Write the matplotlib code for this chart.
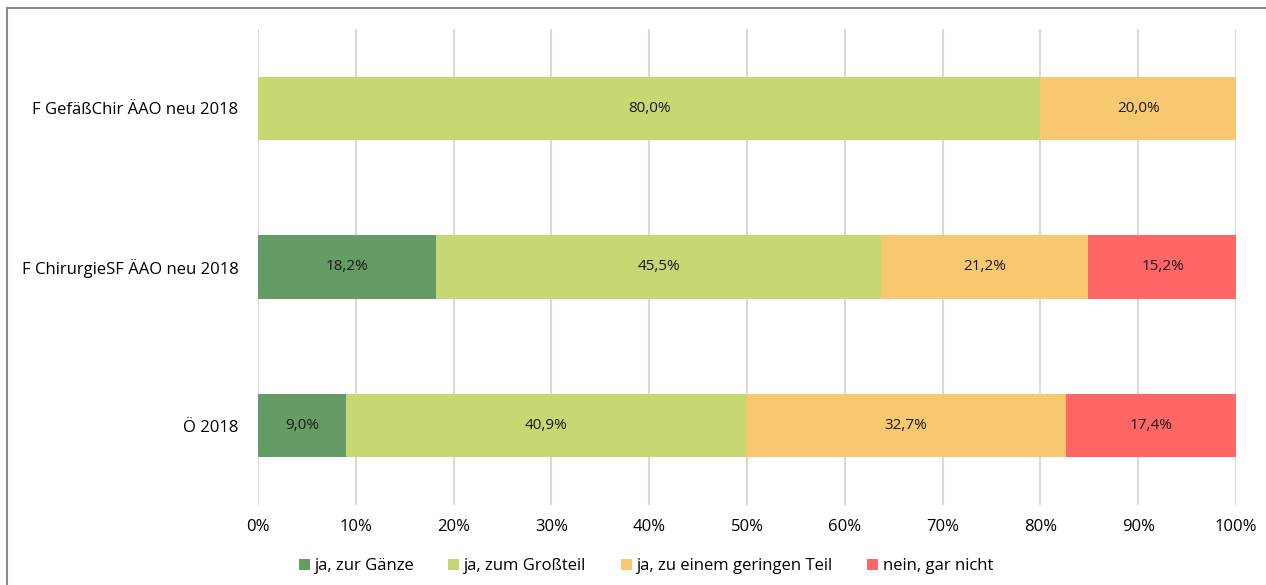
import matplotlib.pyplot as plt
from matplotlib.lines import Line2D

plt.rcParams['font.family'] = ['Open Sans', 'DejaVu Sans']

# Survey answers per group (share of responses in %)
groups = ["F GefäßChir ÄAO neu 2018", "F ChirurgieSF ÄAO neu 2018", "Ö 2018"]
answers = ["ja, zur Gänze", "ja, zum Großteil", "ja, zu einem geringen Teil", "nein, gar nicht"]
values = [
    [0.0, 18.2, 9.0],
    [80.0, 45.5, 40.9],
    [20.0, 21.2, 32.7],
    [0.0, 15.2, 17.4],
]
colors = ["#659B64", "#C7D872", "#F8C870", "#FF6666"]

fig = plt.figure(figsize=(12.66, 5.85), dpi=100)
ax = fig.add_axes([258 / 1266, 1 - 505 / 585, 978 / 1266, 476 / 585])

ypos = list(range(len(groups)))
left = [0.0] * len(groups)
for name, vals, c in zip(answers, values, colors):
    ax.barh(ypos, vals, left=left, height=0.4, color=c, label=name, zorder=2)
    for y, v, l in zip(ypos, vals, left):
        if v > 0:
            ax.text(l + v / 2, y, f"{v:.1f}%".replace(".", ","),
                    ha="center", va="center", fontsize=11, color="#1a1a1a", zorder=3)
    left = [l + v for l, v in zip(left, vals)]

ax.set_xlim(0, 100)
ax.set_ylim(2.5, -0.5)
ax.set_yticks(ypos)
ax.set_yticklabels(groups, fontsize=12)
ax.set_xticks(range(0, 101, 10))
ax.set_xticklabels([f"{t}%" for t in range(0, 101, 10)], fontsize=12)
ax.tick_params(length=0, pad=10)
ax.tick_params(axis="y", pad=14)
ax.grid(axis="x", color="#d9d9d9", linewidth=1.5, zorder=0)
for s in ax.spines.values():
    s.set_visible(False)

fig.legend(loc="center", bbox_to_anchor=(646 / 1266, 1 - 566 / 585),
           ncol=4, frameon=False, fontsize=12, handlelength=0.65, handleheight=0.65,
           handletextpad=0.3, columnspacing=2.05)

# outer chart frame (top and left edges)
fig.add_artist(Line2D([7 / 1266, 1], [1 - 8 / 585, 1 - 8 / 585], color="#8c8c8c", lw=1.5))
fig.add_artist(Line2D([7 / 1266, 7 / 1266], [0, 1 - 8 / 585], color="#8c8c8c", lw=1.5))

fig.savefig("out.png", dpi=100)
